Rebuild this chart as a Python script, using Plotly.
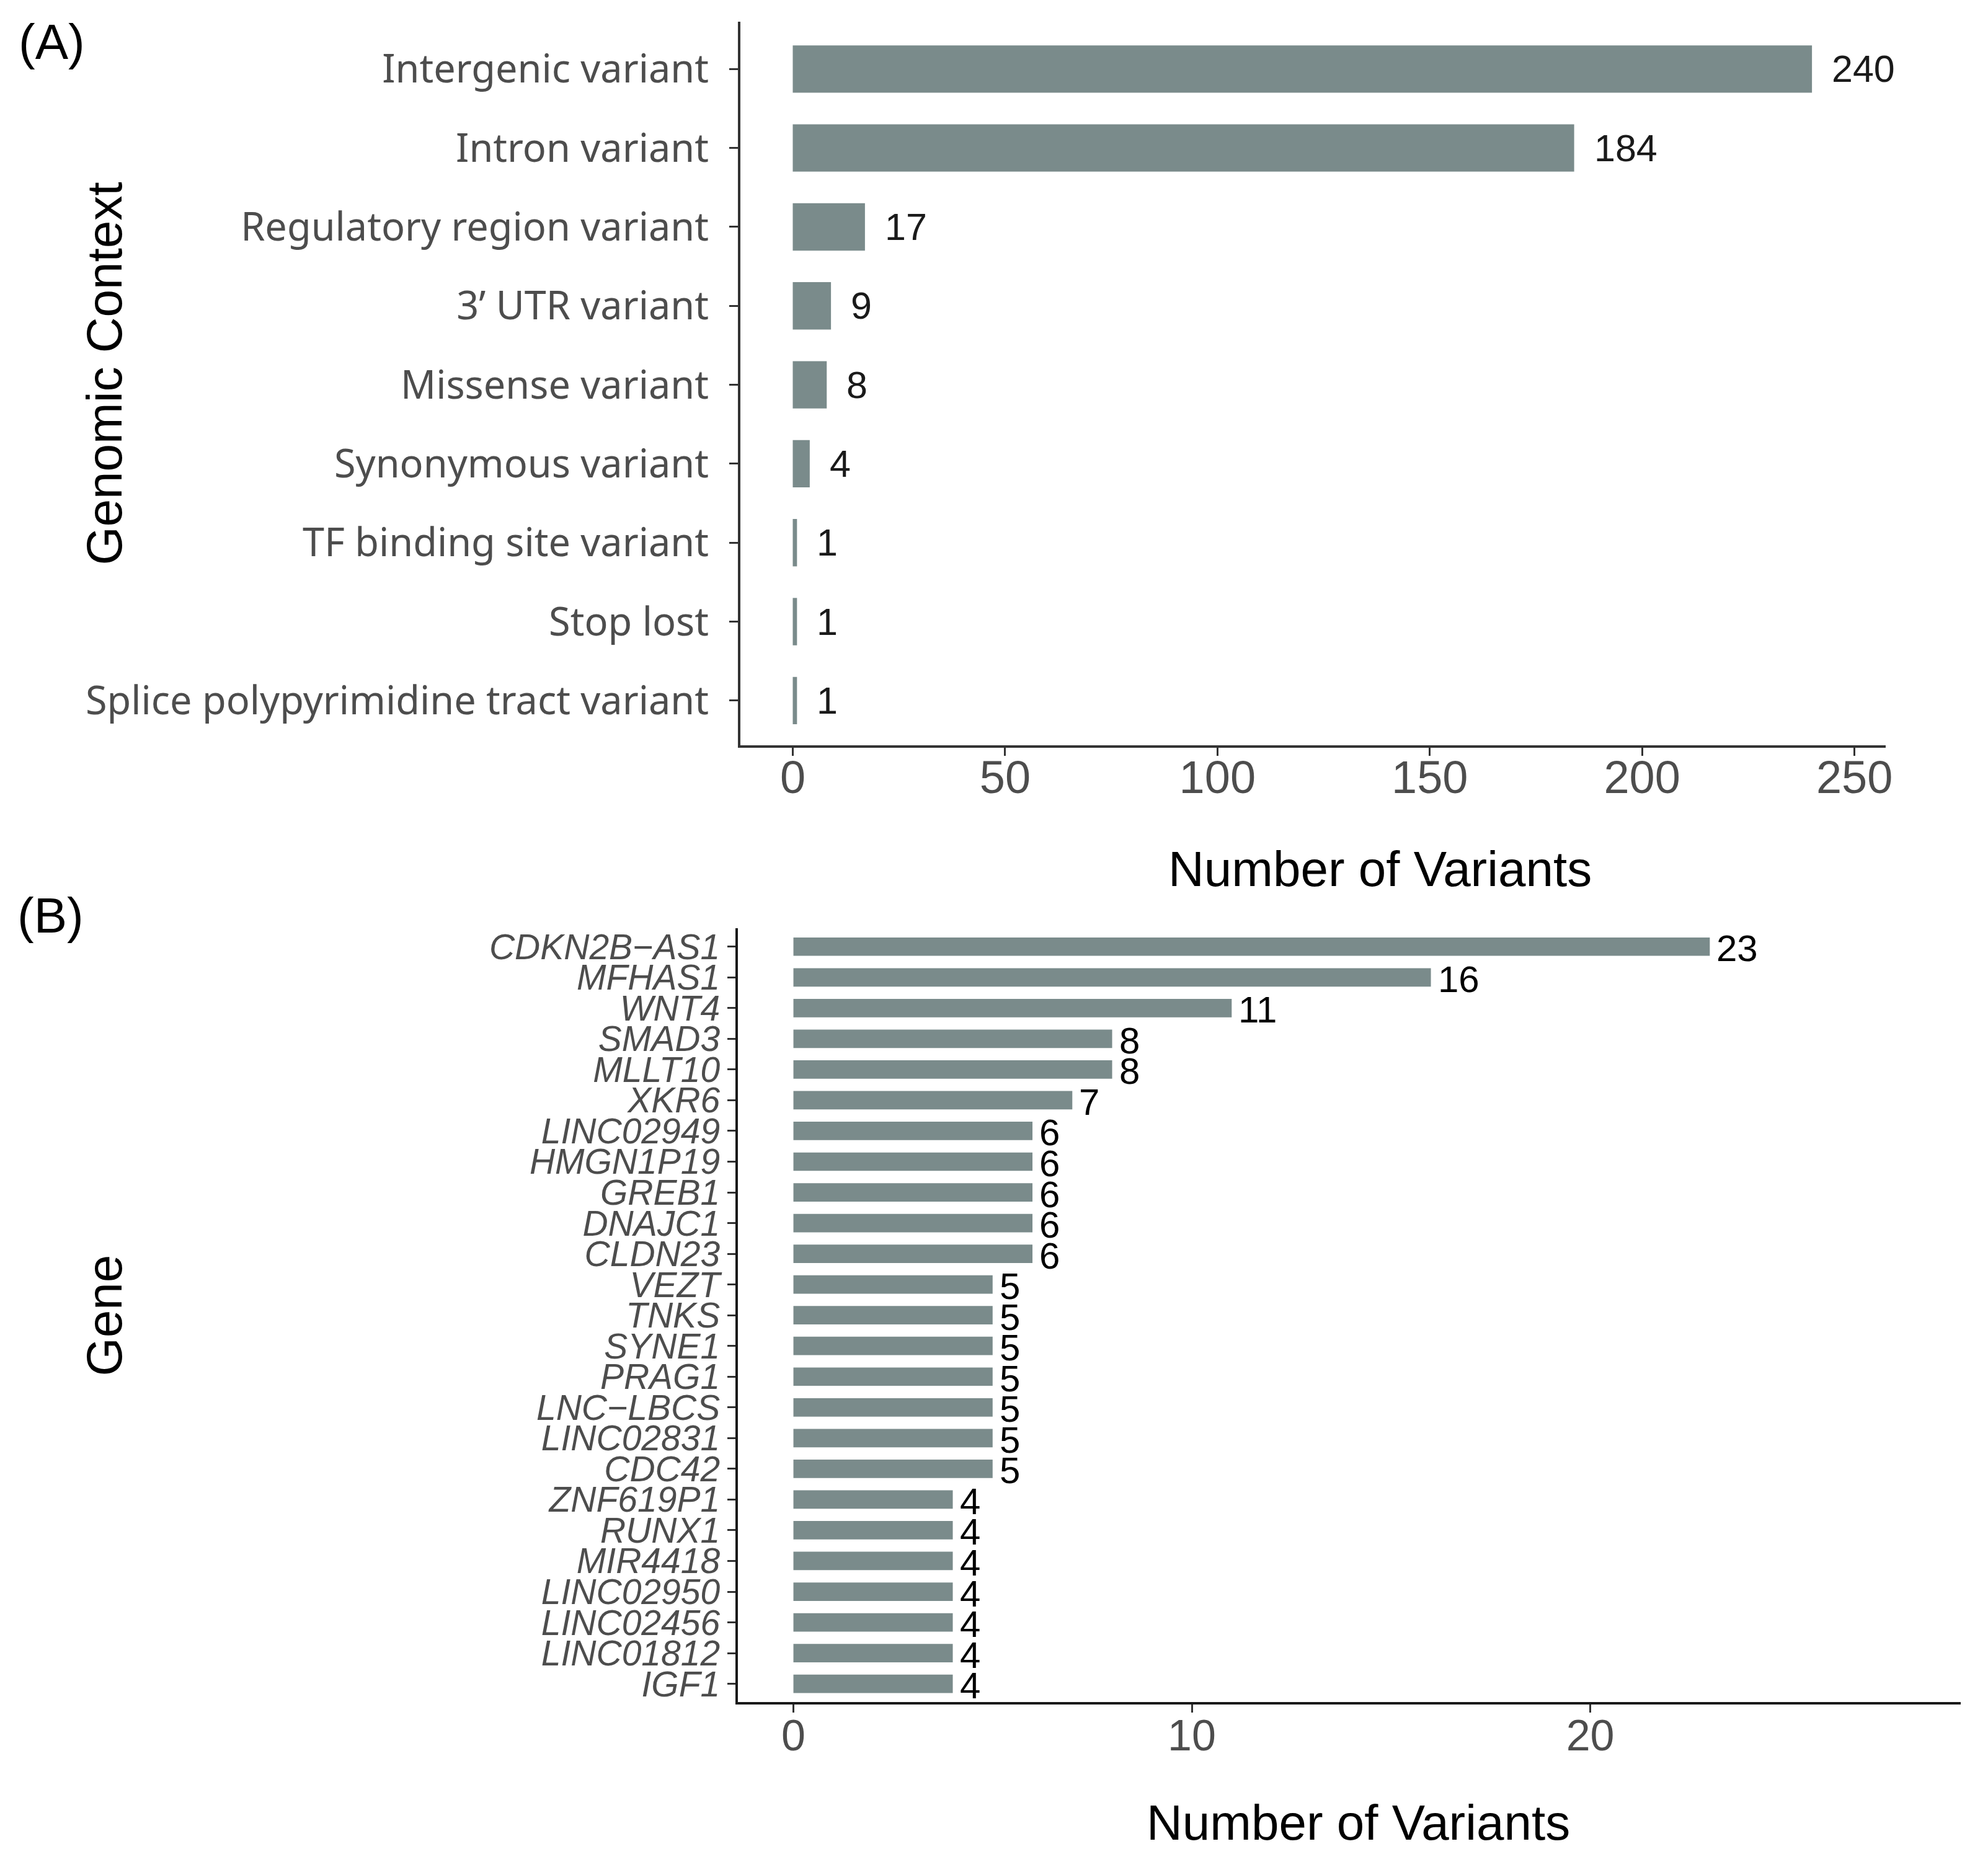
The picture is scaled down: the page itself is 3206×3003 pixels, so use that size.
import plotly.graph_objects as go

# panel A: genomic context of variants
context_labels = ["Intergenic variant", "Intron variant", "Regulatory region variant",
                  "3\u2019 UTR variant", "Missense variant", "Synonymous variant",
                  "TF binding site variant", "Stop lost", "Splice polypyrimidine tract variant"]
context_counts = [240, 184, 17, 9, 8, 4, 1, 1, 1]
context_ticks = [0, 50, 100, 150, 200, 250]

# panel B: variants per gene
gene_labels = ["CDKN2B\u2212AS1", "MFHAS1", "WNT4", "SMAD3", "MLLT10", "XKR6",
               "LINC02949", "HMGN1P19", "GREB1", "DNAJC1", "CLDN23", "VEZT", "TNKS",
               "SYNE1", "PRAG1", "LNC\u2212LBCS", "LINC02831", "CDC42", "ZNF619P1",
               "RUNX1", "MIR4418", "LINC02950", "LINC02456", "LINC01812", "IGF1"]
gene_counts = [23, 16, 11, 8, 8, 7, 6, 6, 6, 6, 6, 5, 5, 5, 5, 5, 5, 5,
               4, 4, 4, 4, 4, 4, 4]
gene_ticks = [0, 10, 20]

W, H = 3206, 3003
OFF_X, OFF_Y = 4, 8  # page offset
BAR = "#7A8B8B"
GREY = "#4d4d4d"


def px_x(p):
    return (p - OFF_X) / W


def px_y(p):
    return 1 - (p - OFF_Y) / H


fig = go.Figure()
fig.add_trace(go.Bar(x=context_counts, y=context_labels, orientation="h",
                     marker=dict(color=BAR, line=dict(width=0)), width=0.6,
                     xaxis="x", yaxis="y", hoverinfo="x+y"))
fig.add_trace(go.Bar(x=gene_counts, y=gene_labels, orientation="h",
                     marker=dict(color=BAR, line=dict(width=0)), width=0.6,
                     xaxis="x2", yaxis="y2", hoverinfo="x+y"))

anns = []
# value labels
for lab, v in zip(context_labels, context_counts):
    anns.append(dict(x=v, y=lab, xref="x", yref="y", text=str(v), showarrow=False,
                     xanchor="left", yanchor="middle", xshift=30,
                     font=dict(family="Liberation Sans", size=61, color="#1a1a1a")))
for lab, v in zip(gene_labels, gene_counts):
    anns.append(dict(x=v, y=lab, xref="x2", yref="y2", text=str(v), showarrow=False,
                     xanchor="left", yanchor="middle", xshift=9, yshift=-3,
                     font=dict(family="Liberation Sans", size=60, color="#000000")))

title_font = dict(family="Liberation Sans", size=80, color="#000000")
panel_font = dict(family="Liberation Sans", size=80, color="#000000")
anns += [
    dict(x=px_x(80), y=px_y(66), xref="paper", yref="paper", text="(A)", showarrow=False,
         xanchor="center", yanchor="middle", font=panel_font),
    dict(x=px_x(78), y=px_y(1476), xref="paper", yref="paper", text="(B)", showarrow=False,
         xanchor="center", yanchor="middle", font=panel_font),
    dict(x=px_x(165), y=px_y(601), xref="paper", yref="paper", text="Genomic Context",
         showarrow=False, textangle=-90, xanchor="center", yanchor="middle", font=title_font),
    dict(x=px_x(165), y=px_y(2122), xref="paper", yref="paper", text="Gene",
         showarrow=False, textangle=-90, xanchor="center", yanchor="middle", font=title_font),
    dict(x=px_x(2230), y=px_y(1401), xref="paper", yref="paper", text="Number of Variants",
         showarrow=False, xanchor="center", yanchor="middle", font=title_font),
    dict(x=px_x(2195), y=px_y(2941), xref="paper", yref="paper", text="Number of Variants",
         showarrow=False, xanchor="center", yanchor="middle", font=title_font),
]

axis_common = dict(showgrid=False, zeroline=False, showline=True, ticks="outside")

fig.update_layout(
    width=W, height=H,
    margin=dict(l=0, r=0, t=0, b=0),
    paper_bgcolor="white", plot_bgcolor="white",
    showlegend=False,
    font=dict(family="Liberation Sans"),
    xaxis=dict(axis_common, domain=[px_x(1194), px_x(3048)], anchor="y",
               range=[-12.4, 257.3], tickvals=context_ticks, ticklabelstandoff=-29,
               linecolor="#333333", linewidth=4, ticklen=13, tickwidth=3, tickcolor="#333333",
               tickfont=dict(family="Liberation Sans", size=74, color=GREY)),
    yaxis=dict(axis_common, domain=[px_y(1202), px_y(33)], anchor="x",
               type="category", categoryorder="array", categoryarray=context_labels,
               tickmode="array", tickvals=context_labels, ticktext=context_labels,
               range=[8.57, -0.6], ticklabelstandoff=20,
               linecolor="#333333", linewidth=4, ticklen=14, tickwidth=3, tickcolor="#333333",
               tickfont=dict(family="Noto Sans", size=63, color=GREY)),
    xaxis2=dict(axis_common, domain=[px_x(1190), px_x(3170)], anchor="y2",
                range=[-1.4, 29.3], tickvals=gene_ticks, ticklabelstandoff=-23,
                linecolor="#1a1a1a", linewidth=4, ticklen=13, tickwidth=3, tickcolor="#333333",
                tickfont=dict(family="Liberation Sans", size=70, color=GREY)),
    yaxis2=dict(axis_common, domain=[px_y(2747), px_y(1497)], anchor="x2",
                type="category", categoryorder="array", categoryarray=gene_labels,
                tickmode="array", tickvals=gene_labels, ticktext=gene_labels,
                range=[24.6, -0.6],
                linecolor="#1a1a1a", linewidth=4, ticklen=13, tickwidth=3, tickcolor="#333333",
                tickfont=dict(family="Liberation Sans", size=57, color=GREY, style="italic")),
    annotations=anns,
)

fig.write_html("out.html")
